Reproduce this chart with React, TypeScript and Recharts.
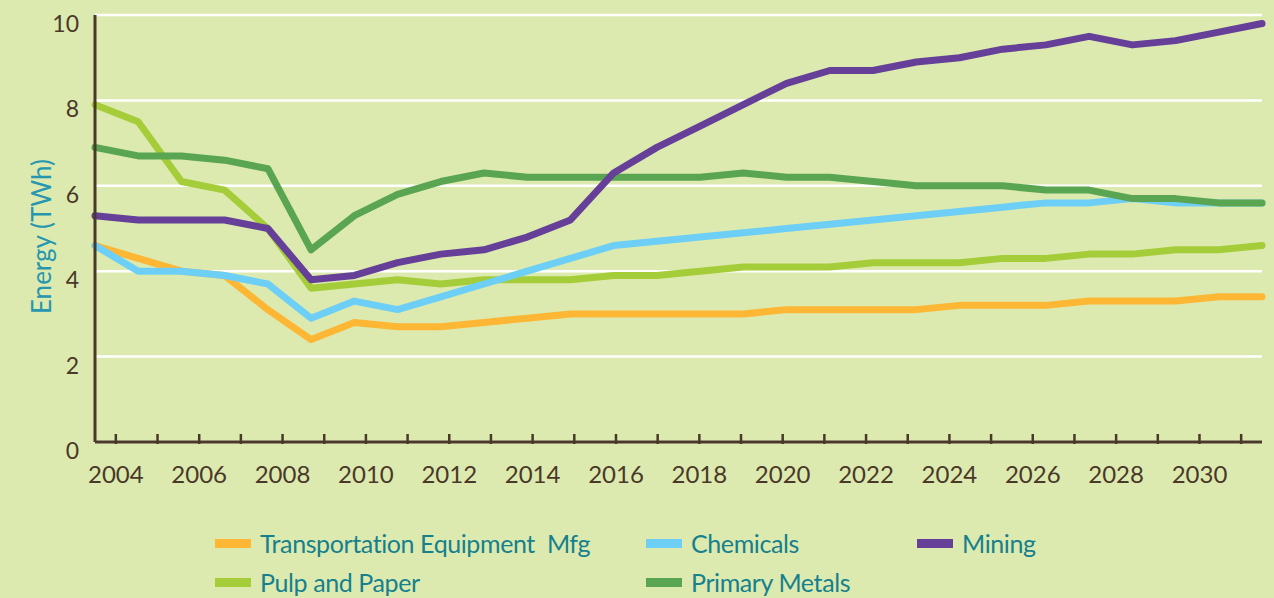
import React from 'react';
import { LineChart, Line, XAxis, YAxis, CartesianGrid } from 'recharts';

const YEARS = [
  2004, 2005, 2006, 2007, 2008, 2009, 2010, 2011, 2012, 2013, 2014, 2015, 2016, 2017,
  2018, 2019, 2020, 2021, 2022, 2023, 2024, 2025, 2026, 2027, 2028, 2029, 2030, 2031,
];

const TRANSPORT = [4.6, 4.3, 4.0, 3.9, 3.1, 2.4, 2.8, 2.7, 2.7, 2.8, 2.9, 3.0, 3.0, 3.0, 3.0, 3.0, 3.1, 3.1, 3.1, 3.1, 3.2, 3.2, 3.2, 3.3, 3.3, 3.3, 3.4, 3.4];
const CHEMICALS = [4.6, 4.0, 4.0, 3.9, 3.7, 2.9, 3.3, 3.1, 3.4, 3.7, 4.0, 4.3, 4.6, 4.7, 4.8, 4.9, 5.0, 5.1, 5.2, 5.3, 5.4, 5.5, 5.6, 5.6, 5.7, 5.6, 5.6, 5.6];
const MINING = [5.3, 5.2, 5.2, 5.2, 5.0, 3.8, 3.9, 4.2, 4.4, 4.5, 4.8, 5.2, 6.3, 6.9, 7.4, 7.9, 8.4, 8.7, 8.7, 8.9, 9.0, 9.2, 9.3, 9.5, 9.3, 9.4, 9.6, 9.8];
const PULP = [7.9, 7.5, 6.1, 5.9, 5.0, 3.6, 3.7, 3.8, 3.7, 3.8, 3.8, 3.8, 3.9, 3.9, 4.0, 4.1, 4.1, 4.1, 4.2, 4.2, 4.2, 4.3, 4.3, 4.4, 4.4, 4.5, 4.5, 4.6];
const METALS = [6.9, 6.7, 6.7, 6.6, 6.4, 4.5, 5.3, 5.8, 6.1, 6.3, 6.2, 6.2, 6.2, 6.2, 6.2, 6.3, 6.2, 6.2, 6.1, 6.0, 6.0, 6.0, 5.9, 5.9, 5.7, 5.7, 5.6, 5.6];

const Y_TICKS = [0, 2, 4, 6, 8, 10];

const data = YEARS.map((year, i) => ({
  year,
  transport: TRANSPORT[i],
  chemicals: CHEMICALS[i],
  mining: MINING[i],
  pulp: PULP[i],
  metals: METALS[i],
}));

const BG = '#dceab0';
const AXIS = '#4a3828';
const FONT = 'Lato, "Open Sans", sans-serif';

// drawn bottom to top
const SERIES = [
  { key: 'transport', name: 'Transportation Equipment  Mfg', color: '#fdb735' },
  { key: 'pulp', name: 'Pulp and Paper', color: '#a5cd39' },
  { key: 'chemicals', name: 'Chemicals', color: '#6dcff6' },
  { key: 'metals', name: 'Primary Metals', color: '#5aa552' },
  { key: 'mining', name: 'Mining', color: '#663f98' },
];

const LEGEND_ROWS = [
  ['transport', 'chemicals', 'mining'],
  ['pulp', 'metals'],
];

function XTick(props: any) {
  const { x, y, payload } = props;
  const year = payload.value as number;
  return (
    <g>
      <line x1={x} x2={x} y1={y} y2={y - 10} stroke={AXIS} strokeWidth={2.5} />
      {year % 2 === 0 && (
        <text x={x} y={y + 29} textAnchor="middle" dominantBaseline="central" fill={AXIS} fontSize={24} fontFamily={FONT}>
          {year}
        </text>
      )}
    </g>
  );
}

function YTick(props: any) {
  const { x, y, payload } = props;
  return (
    <text x={x - 14} y={y + 8} textAnchor="end" dominantBaseline="central" fill={AXIS} fontSize={23} fontFamily={FONT}>
      {payload.value}
    </text>
  );
}

function YLabel(props: any) {
  const { viewBox } = props;
  const cx = 41;
  const cy = viewBox.y + viewBox.height / 2 + 8;
  return (
    <text
      x={cx}
      y={cy}
      transform={`rotate(-90, ${cx}, ${cy})`}
      textAnchor="middle"
      dominantBaseline="central"
      fill="#2697ae"
      fontSize={26}
      fontFamily={FONT}
    >
      Energy (TWh)
    </text>
  );
}

function LegendBox() {
  const byKey = Object.fromEntries(SERIES.map((s) => [s.key, s]));
  const colX = [215, 646, 917];
  return (
    <div style={{ position: 'absolute', left: 0, top: 524, width: 1274 }}>
      {LEGEND_ROWS.map((row, r) =>
        row.map((key, c) => {
          const s = byKey[key];
          return (
            <div
              key={key}
              style={{
                position: 'absolute',
                left: colX[c],
                top: r * 39,
                height: 38,
                display: 'flex',
                alignItems: 'center',
                whiteSpace: 'pre',
              }}
            >
              <span style={{ display: 'inline-block', width: 36, height: 9, background: s.color, marginRight: 9 }} />
              <span style={{ color: '#16808c', fontSize: 25, fontFamily: FONT, letterSpacing: -0.4 }}>{s.name}</span>
            </div>
          );
        })
      )}
    </div>
  );
}

export default function App() {
  return (
    <div style={{ position: 'absolute', left: 0, top: 0, width: 1274, height: 598, background: BG, overflow: 'hidden' }}>
      <LineChart width={1274} height={598} data={data} margin={{ top: 15, right: 12, bottom: 116, left: 0 }}>
        <CartesianGrid xAxisId="num" vertical={false} stroke="#ffffff" strokeWidth={2.5} />
        <XAxis
          xAxisId="cat"
          dataKey="year"
          type="category"
          scale="band"
          height={40}
          interval={0}
          tickSize={0}
          tickLine={false}
          tick={<XTick />}
          axisLine={{ stroke: AXIS, strokeWidth: 3 }}
        />
        <XAxis xAxisId="num" dataKey="year" type="number" domain={[2004, 2031]} hide />
        <YAxis
          width={95}
          domain={[0, 10]}
          ticks={Y_TICKS}
          interval={0}
          tickSize={0}
          tickLine={false}
          tick={<YTick />}
          axisLine={{ stroke: AXIS, strokeWidth: 3 }}
          label={<YLabel />}
        />
        {SERIES.map((s) => (
          <Line
            key={s.key}
            xAxisId="num"
            type="linear"
            dataKey={s.key}
            name={s.name}
            stroke={s.color}
            strokeWidth={7}
            strokeLinecap="round"
            strokeLinejoin="round"
            dot={false}
            activeDot={false}
            isAnimationActive={false}
          />
        ))}
      </LineChart>
      <LegendBox />
    </div>
  );
}
